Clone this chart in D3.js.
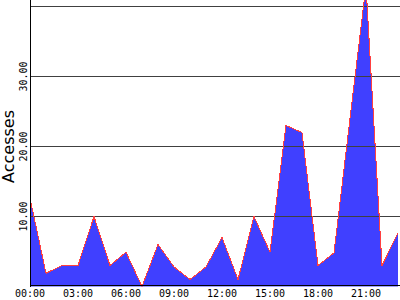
<!DOCTYPE html>
<html>
<head>
<meta charset="utf-8">
<script src="https://cdn.jsdelivr.net/npm/d3@7.9.0/dist/d3.min.js"></script>
<style>
  html, body { margin: 0; padding: 0; background: #fff; }
  svg { display: block; }
</style>
</head>
<body>
<svg id="chart" width="400" height="300"></svg>
<script>
// hourly accesses
const hours = [0, 1, 2, 3, 4, 5, 6, 7, 8, 9, 10, 11, 12, 13, 14, 15, 16, 17, 18, 19, 20, 21, 22, 23];
const accesses = [12.6, 1.9, 3, 3, 10, 3, 4.9, 0, 6, 2.8, 1, 2.8, 7, 1, 10, 4.9, 23, 22, 3, 4.8, 24, 43, 3, 7.6];
const gridValues = [10, 20, 30, 40];
const labelValues = [10, 20, 30];
const tickHours = [0, 3, 6, 9, 12, 15, 18, 21];
const tickLabels = ["00:00", "03:00", "06:00", "09:00", "12:00", "15:00", "18:00", "21:00"];

const data = hours.map((h, i) => ({ hour: h, value: accesses[i] }));

const width = 400, height = 300;
const left = 30, bottom = 286.5;

const svg = d3.select("#chart");

// 16px per hour, hour 0 on the axis
const x = d3.scaleLinear().domain([0, 23]).range([left, left + 23 * 16]);
// 7px per access
const y = d3.scaleLinear().domain([0, 40]).range([bottom, bottom - 280]);

svg.append("defs").append("clipPath").attr("id", "plot")
  .append("rect").attr("x", left).attr("y", 0).attr("width", width - left).attr("height", bottom);

const plot = svg.append("g").attr("clip-path", "url(#plot)");

// filled area
plot.append("path")
  .datum(data)
  .attr("fill", "#4040ff")
  .attr("shape-rendering", "crispEdges")
  .attr("d", d3.area().x(d => x(d.hour)).y0(y(0)).y1(d => y(d.value)));

// horizontal grid
plot.selectAll("line.grid")
  .data(gridValues)
  .join("line")
  .attr("class", "grid")
  .attr("x1", left).attr("x2", width)
  .attr("y1", d => y(d)).attr("y2", d => y(d))
  .attr("stroke", "#404040")
  .attr("shape-rendering", "crispEdges");

// red outline on top
plot.append("path")
  .datum(data)
  .attr("fill", "none")
  .attr("stroke", "#ff4040")
  .attr("stroke-width", 1)
  .attr("shape-rendering", "crispEdges")
  .attr("d", d3.line().x(d => x(d.hour)).y(d => y(d.value)));

// axis lines
svg.append("line")
  .attr("x1", left + 0.5).attr("x2", left + 0.5)
  .attr("y1", 0).attr("y2", bottom)
  .attr("stroke", "#000").attr("shape-rendering", "crispEdges");
svg.append("line")
  .attr("x1", left).attr("x2", width)
  .attr("y1", bottom - 1).attr("y2", bottom - 1)
  .attr("stroke", "#000").attr("shape-rendering", "crispEdges");

// x tick labels
svg.selectAll("text.xtick")
  .data(tickHours)
  .join("text")
  .attr("class", "xtick")
  .attr("x", d => x(d))
  .attr("y", 297)
  .attr("text-anchor", "middle")
  .attr("font-family", "DejaVu Sans Mono, monospace")
  .attr("font-size", 10)
  .attr("fill", "#000")
  .text((d, i) => tickLabels[i]);

// y tick labels, rotated
svg.selectAll("text.ytick")
  .data(labelValues)
  .join("text")
  .attr("class", "ytick")
  .attr("transform", d => `translate(27,${y(d)}) rotate(-90)`)
  .attr("text-anchor", "middle")
  .attr("font-family", "DejaVu Sans Mono, monospace")
  .attr("font-size", 10)
  .attr("fill", "#000")
  .text(d => d3.format(".2f")(d));

// y axis title
svg.append("text")
  .attr("transform", `translate(14,146.5) rotate(-90)`)
  .attr("text-anchor", "middle")
  .attr("font-family", "DejaVu Sans, sans-serif")
  .attr("font-size", 16)
  .attr("fill", "#000")
  .text("Accesses");
</script>
</body>
</html>
